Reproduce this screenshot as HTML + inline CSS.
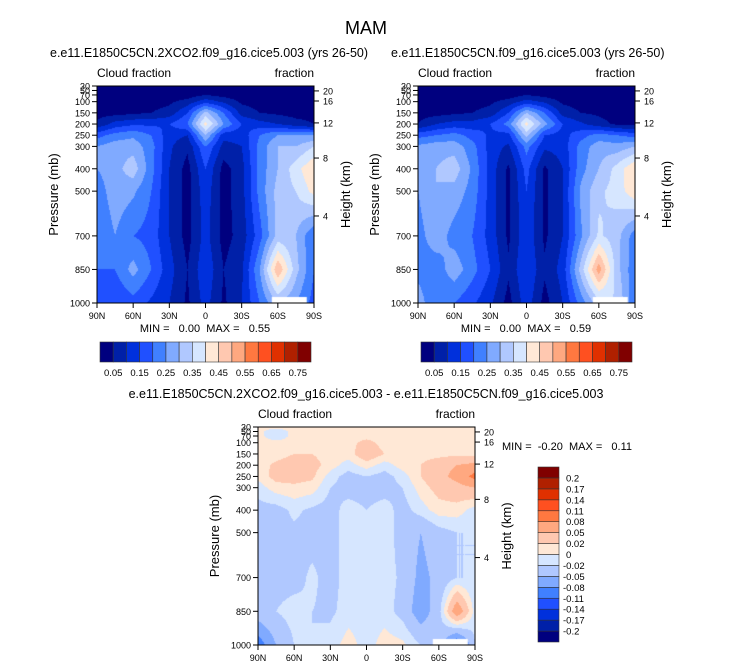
<!DOCTYPE html>
<html><head><meta charset="utf-8">
<style>
body{margin:0;background:#fff;width:733px;height:668px;overflow:hidden;position:relative;font-family:"Liberation Sans",Arial,sans-serif}
canvas{position:absolute}
svg{position:absolute;left:0;top:0}
text{white-space:pre}
</style></head><body>
<canvas id="c1" width="217" height="217" style="left:97px;top:86px"></canvas>
<canvas id="c2" width="217" height="217" style="left:418px;top:86px"></canvas>
<canvas id="c3" width="217" height="218" style="left:258px;top:427px"></canvas>
<svg id="s" width="733" height="668"></svg>
<script>
const lats=[90,75,60,45,30,15,0,-15,-30,-45,-60,-75,-90];
const levels=[30,50,70,100,150,200,250,300,400,500,700,850,1000];
const pTicks=[30,50,70,100,150,200,250,300,400,500,700,850,1000];
const pTickLabels=["30","50","70","100","150","200","250","300","400","500","700","850","1000"];
const kmTicks=["20","16","12","8","4"];
const kmTickPressures=[52,97,195,352,611];
const latTicks=[90,60,30,0,-30,-60,-90];
const latTickLabels=["90N","60N","30N","0","30S","60S","90S"];
const cfBounds=[0.05,0.1,0.15,0.2,0.25,0.3,0.35,0.4,0.45,0.5,0.55,0.6,0.65,0.7,0.75];
const cfLabels=["0.05","0.15","0.25","0.35","0.45","0.55","0.65","0.75"];
const dBounds=[-0.2,-0.17,-0.14,-0.11,-0.08,-0.05,-0.02,0,0.02,0.05,0.08,0.11,0.14,0.17,0.2];
const dLabels=["-0.2","-0.17","-0.14","-0.11","-0.08","-0.05","-0.02","0","0.02","0.05","0.08","0.11","0.14","0.17","0.2"];
const palette=["#00007f","#0020a8","#0030dc","#2050ff","#4080ff","#80aaff","#b0c8ff","#d6e6ff","#ffe8d6","#ffc8b0","#ffa880","#ff7840","#ff5020","#e03000","#b02000","#800000"];
const field1=[
[0.01,0.01,0.01,0.01,0.01,0.01,0.02,0.01,0.01,0.01,0.01,0.01,0.01],
[0.01,0.01,0.01,0.01,0.01,0.01,0.03,0.01,0.01,0.01,0.01,0.01,0.01],
[0.01,0.01,0.01,0.01,0.02,0.02,0.05,0.03,0.02,0.01,0.01,0.01,0.01],
[0.02,0.02,0.02,0.03,0.04,0.07,0.13,0.09,0.04,0.03,0.02,0.02,0.02],
[0.03,0.03,0.04,0.05,0.07,0.15,0.32,0.2,0.08,0.05,0.04,0.03,0.03],
[0.06,0.12,0.14,0.14,0.15,0.2,0.42,0.25,0.15,0.12,0.1,0.07,0.05],
[0.18,0.22,0.24,0.2,0.12,0.1,0.3,0.12,0.12,0.2,0.25,0.25,0.25],
[0.25,0.28,0.28,0.22,0.11,0.06,0.2,0.08,0.1,0.22,0.3,0.3,0.35],
[0.25,0.28,0.33,0.22,0.1,0.03,0.15,0.03,0.08,0.22,0.3,0.38,0.45],
[0.22,0.28,0.26,0.2,0.1,0.03,0.13,0.03,0.08,0.22,0.32,0.35,0.42],
[0.2,0.25,0.2,0.18,0.1,0.03,0.12,0.03,0.07,0.18,0.32,0.3,0.2],
[0.2,0.2,0.27,0.2,0.12,0.05,0.14,0.05,0.09,0.25,0.5,0.32,0.2],
[0.18,0.15,0.18,0.14,0.1,0.04,0.12,0.04,0.1,0.2,0.3,0.25,0.18]];
const field2=[
[0.01,0.01,0.01,0.01,0.01,0.01,0.02,0.01,0.01,0.01,0.01,0.01,0.01],
[0.01,0.01,0.01,0.01,0.01,0.01,0.03,0.01,0.01,0.01,0.01,0.01,0.01],
[0.01,0.01,0.01,0.01,0.02,0.02,0.05,0.03,0.02,0.01,0.01,0.01,0.01],
[0.02,0.02,0.02,0.03,0.04,0.07,0.12,0.09,0.04,0.03,0.02,0.02,0.02],
[0.03,0.03,0.04,0.05,0.07,0.15,0.3,0.2,0.08,0.05,0.04,0.03,0.03],
[0.05,0.1,0.12,0.12,0.15,0.22,0.42,0.27,0.15,0.11,0.07,0.04,0.03],
[0.18,0.2,0.22,0.18,0.14,0.13,0.32,0.15,0.13,0.18,0.22,0.2,0.18],
[0.26,0.28,0.28,0.22,0.13,0.09,0.22,0.11,0.12,0.22,0.28,0.27,0.3],
[0.28,0.3,0.33,0.24,0.13,0.04,0.17,0.04,0.1,0.23,0.3,0.37,0.45],
[0.25,0.3,0.28,0.23,0.13,0.04,0.15,0.04,0.1,0.26,0.34,0.37,0.44],
[0.23,0.28,0.23,0.2,0.13,0.04,0.14,0.04,0.1,0.24,0.36,0.32,0.22],
[0.23,0.22,0.28,0.22,0.15,0.06,0.15,0.06,0.12,0.32,0.53,0.32,0.21],
[0.28,0.2,0.2,0.16,0.11,0.03,0.13,0.03,0.1,0.22,0.33,0.35,0.2]];
const fieldDiff=[
[0.005,0.005,0.005,0.005,0.005,0.005,0.005,0.005,0.005,0.005,0.005,0.005,0.005],
[0.005,-0.01,0.005,0.005,0.005,0.005,0.005,0.005,0.005,0.005,0.005,0.005,0.005],
[0.005,-0.01,0.005,0.005,0.005,0.005,0.01,0.005,0.005,0.005,0.005,0.005,0.005],
[0.005,0.005,0.005,0.005,0.005,0.01,0.03,0.01,0.005,0.005,0.005,0.005,0.005],
[0.01,0.01,0.02,0.02,0.01,0.01,0.04,0.02,0.01,0.01,0.01,0.015,0.01],
[0.01,0.025,0.035,0.03,0.01,-0.01,0.01,-0.01,0.01,0.02,0.04,0.05,0.06],
[0.005,0.03,0.03,0.025,-0.01,-0.03,-0.02,-0.03,-0.01,0.02,0.04,0.06,0.09],
[-0.01,0.01,0.015,0.01,-0.02,-0.03,-0.03,-0.03,-0.02,0.01,0.03,0.04,0.05],
[-0.03,-0.03,-0.015,-0.025,-0.03,-0.01,-0.02,-0.01,-0.03,-0.01,0.01,0.01,-0.01],
[-0.03,-0.03,-0.025,-0.03,-0.03,-0.01,-0.015,-0.01,-0.03,-0.05,-0.03,-0.02,-0.02],
[-0.03,-0.03,-0.03,-0.015,-0.03,-0.01,-0.015,-0.01,-0.025,-0.06,-0.04,-0.02,-0.02],
[-0.03,-0.02,-0.01,-0.02,-0.025,-0.01,-0.01,-0.01,-0.03,-0.07,-0.03,0.08,-0.01],
[-0.1,-0.05,-0.02,-0.02,-0.01,0.01,-0.01,0.01,0.005,-0.02,-0.03,-0.12,-0.02]];

function yOf(p,top,h){return top+(p-30)/970*h;}
function xOf(lat,left,w){return left+(90-lat)/180*w;}
function colorFor(v,bounds){let i=0;while(i<bounds.length&&v>=bounds[i])i++;return palette[i];}
function hex(c){return [parseInt(c.substr(1,2),16),parseInt(c.substr(3,2),16),parseInt(c.substr(5,2),16)];}
function render(id,field,bounds){
  const cv=document.getElementById(id),ctx=cv.getContext('2d'),W=cv.width,H=cv.height;
  const img=ctx.createImageData(W,H);
  for(let y=0;y<H;y++){
    const p=30+(y+0.5)/H*970;
    let r=0;while(r<levels.length-2&&p>levels[r+1])r++;
    const fy=Math.min(1,Math.max(0,(p-levels[r])/(levels[r+1]-levels[r])));
    for(let x=0;x<W;x++){
      const lat=90-(x+0.5)/W*180;
      let c=0;while(c<lats.length-2&&lat<lats[c+1])c++;
      const fx=Math.min(1,Math.max(0,(lats[c]-lat)/(lats[c]-lats[c+1])));
      const v=(field[r][c]*(1-fx)+field[r][c+1]*fx)*(1-fy)+(field[r+1][c]*(1-fx)+field[r+1][c+1]*fx)*fy;
      const col=hex(colorFor(v,bounds));const k=(y*W+x)*4;
      img.data[k]=col[0];img.data[k+1]=col[1];img.data[k+2]=col[2];img.data[k+3]=255;
    }
  }
  ctx.putImageData(img,0,0);
  ctx.fillStyle='#fff';
  const x0=(90+55)/180*W,x1=(90+84)/180*W;
  ctx.fillRect(x0,H-6,x1-x0,6);
}
render('c1',field1,cfBounds);
render('c2',field2,cfBounds);
render('c3',fieldDiff,dBounds);

const NS='http://www.w3.org/2000/svg',svg=document.getElementById('s');
function el(tag,attrs,txt){const e=document.createElementNS(NS,tag);for(const k in attrs)e.setAttribute(k,attrs[k]);if(txt!==undefined)e.textContent=txt;svg.appendChild(e);return e;}
function txt(x,y,s,size,anchor,name,extra){const t=el('text',Object.assign({x:x,y:y,'font-size':size,'text-anchor':anchor||'start',fill:'#000'},extra||{}),s);


return t;}

txt(366,34,"MAM",18,'middle','main-title');
function panel(left,top,w,h,title,titleX,titleAnchor,mm,mmX,mmY,mmAnchor){
  txt(titleX,top-29,title,12.5,titleAnchor,'panel-title');
  txt(left,top-9,"Cloud fraction",12,'start','left-subtitle');
  txt(left+w,top-9,"fraction",12,'end','right-subtitle');
  const fr=el('rect',{x:left,y:top,width:w,height:h,fill:'none',stroke:'#000','stroke-width':1});
  
  
  pTicks.forEach((p,i)=>{const y=yOf(p,top,h);
    el('line',{x1:left-5,x2:left,y1:y,y2:y,stroke:'#000'});
    txt(left-7,y+3.5,pTickLabels[i],9,'end','pressure-tick-label');});
  kmTicks.forEach((k,i)=>{const y=yOf(kmTickPressures[i],top,h);
    el('line',{x1:left+w,x2:left+w+5,y1:y,y2:y,stroke:'#000'});
    txt(left+w+9,y+3.5,k,9,'start','height-tick-label');});
  latTicks.forEach((l,i)=>{const x=xOf(l,left,w);
    el('line',{x1:x,x2:x,y1:top+h,y2:top+h+5,stroke:'#000'});
    txt(x,top+h+16,latTickLabels[i],9,'middle','latitude-tick-label');});
  txt(left-39,top+h/2,"Pressure (mb)",13,'middle','y-axis-title',{transform:`rotate(-90 ${left-39} ${top+h/2})`});
  txt(left+w+36,top+h/2,"Height (km)",13,'middle','right-axis-title',{transform:`rotate(-90 ${left+w+36} ${top+h/2})`});
  txt(mmX,mmY,mm,11,mmAnchor,'min-max-label');
}
panel(97,86,217,217,"e.e11.E1850C5CN.2XCO2.f09_g16.cice5.003 (yrs 26-50)",50,'start',"MIN =   0.00  MAX =   0.55",205,332,'middle');
panel(418,86,217,217,"e.e11.E1850C5CN.f09_g16.cice5.003 (yrs 26-50)",391,'start',"MIN =   0.00  MAX =   0.59",526,332,'middle');
panel(258,427,217,218,"e.e11.E1850C5CN.2XCO2.f09_g16.cice5.003 - e.e11.E1850C5CN.f09_g16.cice5.003",366,'middle',"MIN =  -0.20  MAX =   0.11",502,450,'start');

function hbar(left,top,w,h){
  const bw=w/palette.length;
  palette.forEach((c,i)=>{const r=el('rect',{x:left+i*bw,y:top,width:bw,height:h,fill:c,stroke:'#333','stroke-width':0.6});
    
    });
  cfLabels.forEach((s,i)=>txt(left+(2*i+1)*bw,top+h+14,s,9.5,'middle','colorbar-label'));
}
hbar(100,342,211,20);
hbar(421,342,211,20);
const vb={left:538,top:467,w:21,h:175};
const bh=vb.h/palette.length;
palette.forEach((c,i)=>{const r=el('rect',{x:vb.left,y:vb.top+(palette.length-1-i)*bh,width:vb.w,height:bh,fill:c,stroke:'#333','stroke-width':0.6});
  
  });
dLabels.forEach((s,i)=>txt(vb.left+vb.w+(s.startsWith('-')?4:7),vb.top+(palette.length-1-i)*bh+3.5,s,9.5,'start','diff-colorbar-label'));
</script>
</body></html>
